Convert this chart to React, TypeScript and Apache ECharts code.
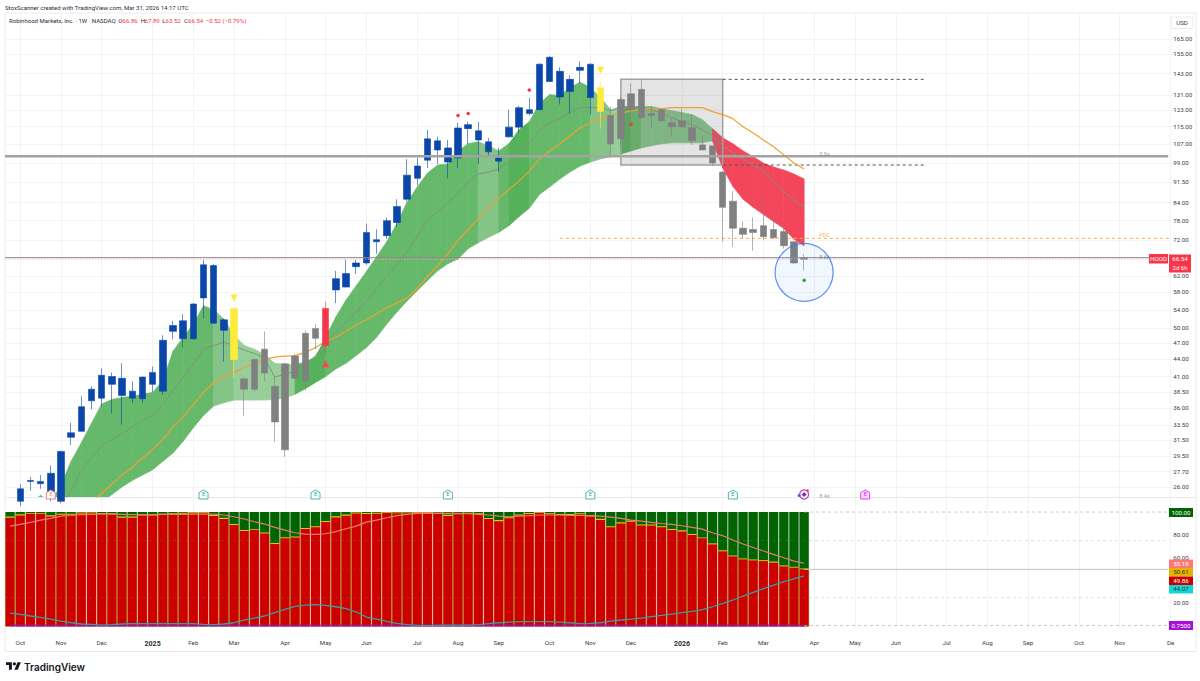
import * as echarts from "echarts";
import { useEffect, useRef } from "react";

const FONT = "Roboto, 'Liberation Sans', sans-serif";

// weekly bars, HOOD 1W
const opens = [
  23, 24.5, 26.6, 26.35, 24.8, 24.5, 31.9, 32.7, 37.1, 37.5,
  39.7, 37.9, 37.5, 37.4, 39.7, 38.6, 49.4, 47.9, 47.9, 56.7,
  51.1, 49.6, 44, 38.9, 38.9, 41.6, 34, 30.3, 40.7, 40.3,
  48, 46.6, 58.6, 59.3, 64.5, 65.5, 71.5, 73.3, 77.4, 85.2,
  92.9, 100.1, 104.4, 99.3, 101, 114, 108.8, 103.6, 99.7, 110.2,
  114.7, 121.3, 123.3, 138.5, 129.9, 132.9, 145, 129.6, 122.3, 107,
  109.3, 123.3, 119.3, 120.3, 117.8, 114.9, 114.9, 108.4, 104.4, 98.9,
  82.4, 75.6, 73.7, 74.3, 73, 72.7, 70.3, 65.5, 66.86,
];
const closes = [
  24, 25.8, 26.7, 26.6, 27.5, 30.1, 32.5, 36.2, 38.9, 41.2,
  41, 40.7, 38.6, 40.9, 41.7, 47.6, 50.6, 51.6, 55.3, 65,
  64.8, 51.8, 54.3, 40.6, 44, 45.9, 39.4, 43.2, 44.6, 49,
  50, 54.3, 61.4, 62.7, 65.5, 74.3, 72.1, 78, 82.7, 94.1,
  97.7, 109.3, 108.4, 105.3, 114.3, 115.9, 113, 108, 101, 114.7,
  124.3, 123.3, 148.7, 153, 144.4, 139.7, 146.8, 148.7, 135, 120.3,
  128.5, 131.7, 134, 121.3, 123.3, 116.8, 117.8, 114.4, 106.6, 106.2,
  95.3, 84.5, 75.6, 75.2, 76.4, 75.2, 74.6, 71.5, 66.54,
];
const lows = [
  22.5, 24, 25.6, 25.8, 24.5, 24.3, 30.9, 32.6, 35.8, 36.2,
  35.2, 33.6, 36.7, 36.7, 38.4, 38, 47.8, 46.2, 47.7, 52.1,
  51, 43.6, 40.7, 34.8, 38.5, 40.2, 31.3, 29.4, 40.5, 38.7,
  45.9, 45.1, 55.5, 59.2, 62.6, 65, 68, 72.3, 76, 84.5,
  90.3, 96.9, 98.5, 92.9, 96.9, 107, 98.5, 102, 95.3, 109.8,
  112.1, 120.3, 123.2, 138.4, 125.9, 121.3, 137.4, 120.8, 114, 102,
  106, 116.3, 118.8, 114.3, 117.3, 110.2, 114, 106.6, 104.3, 97.7,
  71.5, 70, 72.4, 68.9, 72, 72.4, 69.5, 65.3, 63.52,
];
const highs = [
  24.2, 26.3, 27.1, 27.3, 28.4, 30.2, 33.9, 37.8, 39.4, 42.4,
  41.7, 43.3, 40.2, 41, 42.7, 48.6, 51.6, 53, 55.5, 66.4,
  65.2, 52, 54.5, 40.9, 44.2, 49.4, 40.9, 43.4, 45, 49.6,
  50.9, 55.8, 63.4, 66.4, 66.4, 77.1, 75.2, 79, 85.2, 100.5,
  100.9, 113.5, 110.2, 108.8, 116.8, 117.3, 117.3, 109.8, 105.3, 123.3,
  125.3, 129.6, 149.3, 153.7, 146.8, 142, 150.5, 149.3, 138.5, 124.8,
  129.9, 137.4, 139.7, 124.8, 123.8, 119.3, 123.8, 120.8, 110.7, 106.2,
  95.7, 88, 77.7, 79, 84.1, 80.3, 77, 71.6, 67.89,
];
// b blue, g gray, y yellow, r red
const barKinds =
  "bbbbbbbbbbbbbbbbbbbbbb" + "y" + "gggggggg" + "r" + "bbbbbbbbbbbbbbbbbbbbbbbbbb" + "y" + "gggggggggggggggggggg";

const bandUpper = [
  24, 24, 24.4, 25.1, 24.4, 26.2, 28.9, 31.2, 33.8, 36.6,
  37.3, 37.6, 37.8, 38.1, 38.4, 40.3, 45.5, 48.2, 50.9, 54.9,
  54, 52, 48.6, 46.6, 45.9, 44.9, 43.3, 43.1, 43.1, 43.5,
  44.4, 48.2, 52.4, 56.2, 59.6, 63.2, 67.2, 71.5, 77.1, 84.2,
  89.6, 94.9, 98.1, 98.5, 104, 107.1, 108, 106.2, 104, 107.1,
  113.5, 117.3, 126.4, 131.2, 130.7, 135.1, 138, 135.1, 129.6, 123.3,
  124.9, 124.9, 124.9, 124.9, 123.8, 122.8, 121.8, 120.8, 118.3, 114,
  109.8, 107.1, 104, 101.5, 98.9, 97.3, 96.1, 94.5, 92.6,
];
const bandLower = [
  24, 24, 24, 24, 24, 24, 24, 24, 24, 24.4,
  25.2, 26, 26.7, 27.3, 27.9, 28.9, 29.9, 31.4, 33.2, 34.9,
  36.3, 36.8, 37.2, 37.2, 37.2, 37.2, 37.3, 37.5, 38.1, 39,
  40, 41, 42.3, 43.3, 44.7, 46.2, 48.2, 50.9, 53.5, 56,
  58.4, 60.9, 63.4, 65.3, 66.6, 69.5, 71.2, 72.8, 74.3, 76.4,
  79.3, 82.1, 86.9, 89.6, 92.6, 95.3, 97.7, 99.3, 100.6, 101.5,
  102.7, 104, 105.3, 106.2, 107.1, 107.5, 107.5, 107.5, 107.5, 108.4,
  96.9, 89.9, 85.2, 82.4, 80, 77.7, 75.5, 72.2, 70.3,
];
const bandMiddle = [
  null, null, null, null, null, 24, 25.6, 27.8, 29.3, 30.8,
  31.6, 32.4, 33.3, 34.2, 35, 36.5, 38.7, 40.9, 43.1, 45.9,
  46.6, 47.2, 46.6, 45.7, 45.1, 44.2, 40.9, 41.4, 41.9, 43.1,
  44.7, 47.2, 49.2, 51.3, 53.5, 55.8, 58.9, 61.9, 65, 68.6,
  73.1, 78.4, 81, 83.8, 87.6, 91.4, 94.5, 95.3, 96.5, 99.3,
  103.6, 107.5, 113, 116.8, 118.8, 121.8, 124.3, 124.3, 124.3, 122.8,
  124.3, 124.3, 124.3, 123.3, 121.3, 119.3, 117.3, 115.9, 113.5, 110.7,
  106.2, 103.1, 100.6, 98.1, 95.7, 91.8, 88, 84.8, 82.4,
];
const slowAverage = [
  null, null, null, null, null, null, null, null, 24.4, 25.3,
  26.3, 27.3, 28.2, 29.3, 30.3, 31.6, 33.3, 34.7, 36.5, 38.4,
  40, 40.9, 41.7, 42.6, 43.3, 44, 44.4, 44.6, 44.7, 45.3,
  46.2, 47.4, 48.2, 49.4, 50.7, 51.8, 53.1, 54.4, 55.5, 56.7,
  58.9, 62, 64.8, 68, 71.8, 75.2, 78.7, 82.4, 85.5, 88.7,
  91.8, 95.7, 100.6, 104, 107.1, 110.7, 114.4, 116.8, 118.8, 120.3,
  121.3, 122.8, 123.3, 123.8, 123.8, 124.3, 124.3, 124.3, 124.3, 122.3,
  120.8, 118.8, 114.9, 112, 108.8, 105.8, 102.3, 98.9, 96.5,
];
// shade of the band between bar i and bar i + 1
const bandShades =
  "mmmmmmmmmmmmmmmmmmmm" + "ll" + "pppppp" + "ddd" + "mmmmmmmmmmmmmmm" + "ll" + "m" + "dd" + "mmmmmm" + "l" + "l" + "p" + "d" + "m" + "lllllll" + "rrrrrrrrr";

const priceTicks = [165, 155, 143, 131, 123, 115, 107, 99, 91.5, 84, 78, 72, 62, 58, 54, 50, 47, 44, 41, 38.5, 36, 33.5, 31.5, 29.5, 27.7, 26];
const monthTicks: [number, string][] = [
  [1, "Oct"], [5, "Nov"], [9, "Dec"], [14, "2025"], [18, "Feb"], [22, "Mar"], [27, "Apr"], [31, "May"], [35, "Jun"],
  [40, "Jul"], [44, "Aug"], [48, "Sep"], [53, "Oct"], [57, "Nov"], [61, "Dec"], [66, "2026"], [70, "Feb"], [74, "Mar"],
  [79, "Apr"], [83, "May"], [87, "Jun"], [92, "Jul"], [96, "Aug"], [100, "Sep"], [105, "Oct"], [109, "Nov"], [114, "De"],
];
const categories = Array.from({ length: 115 }, () => "");
monthTicks.forEach(([i, label]) => {
  categories[i] = label;
});

// lower pane
const redTops = [
  95, 97, 98.5, 98.5, 96.2, 97.7, 97.7, 98.8, 99, 98.5,
  98, 95, 95, 97, 97, 97.7, 98, 98.5, 99, 99.1,
  96.5, 93.9, 88.6, 83.4, 84.2, 81.3, 72, 77, 77.8, 85.1,
  86.6, 91.2, 95.3, 96.8, 98.8, 98.2, 98.5, 99.1, 99, 99,
  99.3, 99.3, 98.5, 96.5, 98, 98.5, 98, 93.9, 92, 94.5,
  97, 98.2, 99.1, 98.2, 97.4, 97.4, 98, 96, 93, 86.6,
  90, 91.5, 88.3, 88.3, 86.6, 84.2, 83, 79.9, 77, 71.7,
  65.6, 61.2, 58.6, 57.7, 57.1, 55.7, 52.4, 51.3, 49.86,
];
const goldTops = [
  96, 98, 99.2, 99.2, 97.3, 98.6, 98.6, 99.5, 99.7, 99.2,
  99, 96, 96.2, 98, 98, 98.6, 98.9, 99.3, 99.8, 99.8,
  97.4, 95, 89.5, 84.2, 85, 82.1, 72.9, 77.9, 78.7, 86,
  87.6, 92.2, 96.3, 97.8, 99.6, 99.1, 99.3, 99.8, 99.7, 99.7,
  100, 100, 99.3, 97.6, 98.9, 99.3, 99, 94.8, 93, 95.5,
  97.9, 99.1, 99.8, 99, 98.3, 98.3, 99, 97.1, 94.2, 87.6,
  91, 92.5, 89.2, 89.2, 87.5, 85.1, 84, 80.8, 77.8, 72.6,
  66.5, 62, 59.4, 58.5, 57.9, 56.7, 53.3, 52.1, 50.61,
];
const upperOsc = [
  87.7, 89.2, 91, 93, 94.5, 96.5, 97, 97.7, 98, 98.2,
  98.2, 98, 97.7, 97.7, 97.7, 98, 98, 98, 98.2, 98.2,
  98.2, 97.4, 95.9, 93.9, 91.5, 89.5, 86.6, 84.2, 81.9, 80.7,
  80.5, 81, 82.8, 85.4, 87.7, 91.2, 93, 95, 96.8, 98,
  98.8, 98.8, 98.8, 98.8, 98.8, 98.5, 98, 97.4, 96.5, 95.9,
  96.5, 96.8, 97.4, 97.4, 97.4, 97, 97, 97, 96.5, 95.6,
  94.5, 93, 92.1, 91, 90, 89.2, 88, 86.6, 85.1, 81.9,
  79.3, 75.5, 72, 69, 65.9, 62.9, 60, 57.1, 55.18,
];
const lowerOsc = [
  11.6, 10.4, 9, 7.8, 6.3, 4.6, 3.1, 2, 1.7, 1.1,
  1.4, 2, 2.3, 2.3, 2.3, 2.3, 2.3, 2.3, 2.3, 1.7,
  1.4, 2, 3.1, 5.5, 7.2, 9, 11.9, 14.8, 17.4, 18.6,
  18.9, 18.3, 17.1, 15.4, 12.5, 8.1, 6.3, 4.3, 2.6, 1.4,
  0.8, 0.5, 0.8, 1.1, 1.1, 1.1, 1.4, 2.3, 3.1, 3.7,
  4, 4, 4, 4, 3.7, 3.1, 2.3, 2.6, 3.1, 4.6,
  5.5, 6.3, 7.2, 8.4, 9.6, 10.7, 11.9, 13, 14.5, 17.1,
  20, 23, 26.5, 29.7, 32.9, 36.1, 39, 41.6, 44.07,
];
const oscTicks = [20, 60, 80];

const blueBox = [78, 63];
const blueDot = [78, 61];
const signalDots = [[44, 120.3], [45, 121.3], [51, 133.7], [61, 116.1]];
const downArrows = [[22, 56.7], [58, 145]];
const upArrows = [[31, 43.2]];
const earnings = [19, 30, 43, 57, 71];
const lineNotes: [number, number, string][] = [
  [80, 102.7, "3.9s"],
  [80, 67.2, "8.6h"],
  [80, 25, "8.4s"],
];

const shadeColors: Record<string, string> = {
  m: "#66b96a",
  l: "#84c487",
  p: "#98ce9a",
  d: "#55b15a",
  r: "#f4465a",
};
const barStyles: Record<string, { body: string; wick: string }> = {
  b: { body: "#0a47a9", wick: "#0a47a9" },
  g: { body: "#808080", wick: "#808080" },
  y: { body: "#ffeb3b", wick: "#ffeb3b" },
  r: { body: "#f7364a", wick: "#f7364a" },
};

echarts.graphic.registerShape(
  "tvLogo",
  echarts.graphic.extendPath("M14 22H7V11H0V4h14v18zM28 22h-8l7.5-18h8L28 22zM20 4a4 4 0 1 0 0 8a4 4 0 1 0 0-8z", {})
);

const GRID_LEFT = 5;
const GRID_WIDTH = 1170.7;
const SMALL = 6.2;

// horizontal level in a pane; from/to null means the whole pane
const level = (pane: number, value: number, from: number | null, to: number | null, style: any, z = 3) => ({
  type: "custom",
  xAxisIndex: pane,
  yAxisIndex: pane,
  data: [[from ?? 0, value]],
  silent: true,
  z,
  clip: false,
  renderItem: (params: any, api: any) => {
    const cs = params.coordSys;
    const y = api.coord([0, value])[1];
    const x1 = from === null ? cs.x : api.coord([from, value])[0];
    const x2 = to === null ? cs.x + cs.width - 7.5 : api.coord([to, value])[0];
    return { type: "line", shape: { x1, y1: y, x2, y2: y }, style: { fill: null, ...style } };
  },
});

const tag = (x: number, y: number, w: number, h: number, fill: string, text: string, color = "#fff") => [
  { type: "rect", z: 50, shape: { x, y, width: w, height: h }, style: { fill } },
  {
    type: "text",
    z: 51,
    x: x + w / 2,
    y: y + h / 2,
    style: { text, fill: color, font: `${SMALL}px ${FONT}`, textAlign: "center", textVerticalAlign: "middle" },
  },
];

const headerText = (x: number, y: number, text: string, fill = "#2a2e39") => ({
  type: "text",
  z: 50,
  x,
  y,
  style: { text, fill, font: `6.05px ${FONT}`, textVerticalAlign: "middle" },
});

const App = () => {
  const chartRef = useRef<HTMLDivElement>(null);

  useEffect(() => {
    if (!chartRef.current) return;
    const myChart = echarts.init(chartRef.current, null, { renderer: "svg" });

    const tickInterval = (i: number) => categories[i] !== "";
    const xAxisBase = {
      type: "category",
      data: categories,
      boundaryGap: true,
      axisLine: { show: false },
      axisTick: { show: false, alignWithLabel: true },
      splitLine: { show: true, interval: tickInterval, alignWithLabel: true, lineStyle: { color: "#f2f3f5", width: 1 } },
    };

    const option = {
      animation: false,
      backgroundColor: "#ffffff",
      textStyle: { fontFamily: FONT },
      grid: [
        { left: GRID_LEFT, top: 13, width: GRID_WIDTH, height: 484 },
        { left: GRID_LEFT, top: 498, width: GRID_WIDTH, height: 130 },
      ],
      xAxis: [
        { ...xAxisBase, gridIndex: 0, axisLabel: { show: false } },
        {
          ...xAxisBase,
          gridIndex: 1,
          axisLabel: {
            show: true,
            interval: tickInterval,
            hideOverlap: false,
            margin: 12,
            fontSize: SMALL,
            color: "#3a3e49",
            fontFamily: FONT,
            formatter: (v: string) => (v.startsWith("20") ? `{y|${v}}` : v),
            rich: { y: { fontSize: 7, fontWeight: "bold", color: "#2a2e39", fontFamily: FONT } },
          },
        },
      ],
      yAxis: [
        {
          type: "log",
          gridIndex: 0,
          position: "right",
          min: 24.94,
          max: 183.7,
          axisLine: { show: false },
          axisTick: { show: false, customValues: priceTicks },
          splitLine: { show: true, customValues: priceTicks, lineStyle: { color: "#f2f3f5", width: 1 } },
          axisLabel: {
            show: true,
            customValues: priceTicks,
            align: "left",
            margin: -2.5,
            fontSize: SMALL,
            color: "#3a3e49",
            fontFamily: FONT,
            formatter: (v: number) => v.toFixed(2),
          },
        },
        {
          type: "value",
          gridIndex: 1,
          position: "right",
          min: -1.5,
          max: 112.3,
          axisLine: { show: false },
          axisTick: { show: false },
          splitLine: { show: false },
          axisLabel: {
            show: true,
            customValues: oscTicks,
            align: "left",
            margin: -2.5,
            fontSize: SMALL,
            color: "#3a3e49",
            fontFamily: FONT,
            formatter: (v: number) => v.toFixed(2),
          },
        },
      ],
      series: [
        {
          type: "custom",
          name: "band",
          xAxisIndex: 0,
          yAxisIndex: 0,
          clip: true,
          silent: true,
          z: 2,
          data: bandShades.split("").map((_, i) => [i, bandUpper[i]]),
          encode: { x: 0, y: 1 },
          renderItem: (_: any, api: any) => {
            const i = api.value(0);
            const fill = shadeColors[bandShades[i]];
            const points = [
              api.coord([i, bandUpper[i]]),
              api.coord([i + 1, bandUpper[i + 1]]),
              api.coord([i + 1, bandLower[i + 1]]),
              api.coord([i, bandLower[i]]),
            ];
            return { type: "polygon", shape: { points }, style: { fill, stroke: fill, lineWidth: 0.7 } };
          },
        },
        {
          type: "line",
          name: "middle",
          xAxisIndex: 0,
          yAxisIndex: 0,
          data: bandMiddle,
          symbol: "none",
          z: 3,
          lineStyle: { color: "#7f9382", width: 1 },
        },
        {
          type: "line",
          name: "slow",
          xAxisIndex: 0,
          yAxisIndex: 0,
          data: slowAverage,
          symbol: "none",
          z: 3,
          lineStyle: { color: "#f0a030", width: 1.2 },
          markArea: {
            silent: true,
            z: 3,
            itemStyle: { color: "rgba(120,120,120,0.2)", borderColor: "#a0a0a0", borderWidth: 1.5 },
            data: [[{ coord: [60, 139.7] }, { coord: [70, 98.1] }]],
          },
        },
        level(0, 139.7, 70, 90, { stroke: "#555", lineWidth: 1, lineDash: [3, 3] }),
        level(0, 98.1, 70, 90, { stroke: "#555", lineWidth: 1, lineDash: [3, 3] }),
        level(0, 72.5, 54, 114, { stroke: "#f7b04a", lineWidth: 1, lineDash: [3, 3] }),
        {
          type: "candlestick",
          name: "HOOD",
          xAxisIndex: 0,
          yAxisIndex: 0,
          barWidth: 7,
          z: 4,
          data: opens.map((o, i) => {
            const s = barStyles[barKinds[i]];
            return {
              value: [o, closes[i], lows[i], highs[i]],
              itemStyle: { color: s.body, color0: s.body, borderColor: s.wick, borderColor0: s.wick, borderWidth: 0.6 },
            };
          }),
        },
        level(0, 101.7, null, null, { stroke: "#a3a3a3", lineWidth: 2.4 }, 5),
        level(0, 66.95, null, null, { stroke: "#8a8a8a", lineWidth: 1 }, 5),
        level(0, 66.54, null, null, { stroke: "#f7a8b0", lineWidth: 0.8, lineDash: [1.5, 1.5] }, 5),
        {
          type: "scatter",
          name: "target",
          xAxisIndex: 0,
          yAxisIndex: 0,
          data: [blueBox],
          symbol: "circle",
          symbolSize: 58,
          z: 5,
          itemStyle: { color: "rgba(33,130,243,0.08)", borderColor: "#3d78ee", borderWidth: 1.2 },
        },
        {
          type: "scatter",
          name: "green dot",
          xAxisIndex: 0,
          yAxisIndex: 0,
          data: [blueDot],
          symbolSize: 3.5,
          z: 6,
          itemStyle: { color: "#2e9e3e", opacity: 1 },
        },
        {
          type: "scatter",
          name: "signals",
          xAxisIndex: 0,
          yAxisIndex: 0,
          data: signalDots,
          symbolSize: 3.5,
          z: 6,
          itemStyle: { color: "#f23645", opacity: 1 },
        },
        {
          type: "scatter",
          name: "down",
          xAxisIndex: 0,
          yAxisIndex: 0,
          data: downArrows,
          symbol: "triangle",
          symbolRotate: 180,
          symbolSize: [7.5, 7],
          z: 6,
          itemStyle: { color: "#ffeb3b", opacity: 1 },
        },
        {
          type: "scatter",
          name: "up",
          xAxisIndex: 0,
          yAxisIndex: 0,
          data: upArrows,
          symbol: "triangle",
          symbolSize: [7.5, 7],
          z: 6,
          itemStyle: { color: "#f7465a", opacity: 1 },
        },
        {
          type: "scatter",
          name: "earnings",
          xAxisIndex: 0,
          yAxisIndex: 0,
          clip: false,
          symbol: "path://M5 0L10 3V10H0V3Z",
          symbolSize: 9,
          z: 7,
          data: [
            { value: [4, 25.2], itemStyle: { color: "#fff", borderColor: "#f77c80", borderWidth: 1, opacity: 1 }, label: { color: "#f77c80" } },
            ...earnings.map((i) => ({ value: [i, 25.2], itemStyle: { color: "#fff", borderColor: "#4db6ac", borderWidth: 1, opacity: 1 } })),
            { value: [84, 25.2], itemStyle: { color: "#f9dcfc", borderColor: "#e040fb", borderWidth: 1, opacity: 1 }, label: { color: "#c030e0" } },
          ],
          label: { show: true, position: "inside", formatter: "E", fontSize: 5.5, color: "#26a69a", fontFamily: FONT },
        },
        {
          type: "scatter",
          name: "dividend",
          xAxisIndex: 0,
          yAxisIndex: 0,
          clip: false,
          z: 7,
          data: [
            { value: [78, 25.2], symbol: "circle", symbolSize: 9, itemStyle: { color: "#fff", borderColor: "#ab47bc", borderWidth: 1.2, opacity: 1 } },
            { value: [78, 25.2], symbol: "diamond", symbolSize: 5, itemStyle: { color: "#8e24aa", opacity: 1 } },
            { value: [78, 25.2], symbol: "circle", symbolSize: 3, symbolOffset: [-5, 1], itemStyle: { color: "#3d5afe", opacity: 1 } },
            { value: [78, 25.2], symbol: "circle", symbolSize: 2.5, symbolOffset: [3.5, -4], itemStyle: { color: "#f23645", opacity: 1 } },
          ],
        },
        {
          type: "scatter",
          name: "notes",
          xAxisIndex: 0,
          yAxisIndex: 0,
          clip: false,
          symbolSize: 0,
          z: 7,
          data: lineNotes.map(([i, v, t]) => ({ value: [i, v], name: t })),
          label: { show: true, position: "inside", formatter: "{b}", fontSize: 5.5, color: "#787b86", fontFamily: FONT },
        },
        {
          type: "scatter",
          name: "pdc",
          xAxisIndex: 0,
          yAxisIndex: 0,
          clip: false,
          symbolSize: 0,
          z: 7,
          data: [{ value: [80, 73.4], name: "PDC" }],
          label: { show: true, position: "inside", formatter: "{b}", fontSize: 5.5, color: "#f7a030", fontFamily: FONT },
        },

        // lower pane: tinted gaps between the columns, then three bars on top of each other
        {
          type: "custom",
          name: "gaps",
          xAxisIndex: 1,
          yAxisIndex: 1,
          silent: true,
          z: 1,
          data: redTops.map((v, i) => [i, v]),
          encode: { x: 0, y: 1 },
          renderItem: (_: any, api: any) => {
            const i = api.value(0);
            const [cx, yTop] = api.coord([i, 100]);
            const yMid = api.coord([i, redTops[i]])[1];
            const yBase = api.coord([i, 0])[1];
            const w = api.size([1, 0])[0];
            return {
              type: "group",
              children: [
                { type: "rect", shape: { x: cx - w / 2, y: yTop, width: w, height: yMid - yTop }, style: { fill: "#9fbd9f" } },
                { type: "rect", shape: { x: cx - w / 2, y: yMid, width: w, height: yBase - yMid }, style: { fill: "#f29a9a" } },
              ],
            };
          },
        },
        {
          type: "bar",
          name: "green",
          xAxisIndex: 1,
          yAxisIndex: 1,
          data: redTops.map(() => 100),
          barWidth: 9,
          barGap: "-100%",
          z: 2,
          itemStyle: { color: "#006400" },
        },
        {
          type: "bar",
          name: "gold",
          xAxisIndex: 1,
          yAxisIndex: 1,
          data: goldTops,
          barWidth: 9,
          barGap: "-100%",
          z: 2,
          itemStyle: { color: "#e6c800" },
        },
        {
          type: "bar",
          name: "red",
          xAxisIndex: 1,
          yAxisIndex: 1,
          data: redTops,
          barWidth: 9,
          barGap: "-100%",
          z: 2,
          itemStyle: { color: "#cc0000" },
        },
        level(1, 75, null, null, { stroke: "rgba(130,130,130,0.35)", lineWidth: 0.8, lineDash: [3, 3] }),
        level(1, 25, null, null, { stroke: "rgba(130,130,130,0.35)", lineWidth: 0.8, lineDash: [3, 3] }),
        level(1, 50, null, 78, { stroke: "rgba(130,130,130,0.3)", lineWidth: 0.8, lineDash: [3, 3] }),
        level(1, 100, 78, null, { stroke: "#b8b8b8", lineWidth: 0.8, lineDash: [3, 3] }),
        level(1, 0.75, 78, null, { stroke: "#b8b8b8", lineWidth: 0.8, lineDash: [3, 3] }),
        level(1, 49.86, 78, null, { stroke: "#c4c4c4", lineWidth: 1 }),
        level(1, 0.75, 0, 78, { stroke: "#a0149a", lineWidth: 2, opacity: 0.85 }, 4),
        {
          type: "line",
          name: "upper osc",
          xAxisIndex: 1,
          yAxisIndex: 1,
          data: upperOsc,
          symbol: "none",
          z: 5,
          lineStyle: { color: "#ea7a70", width: 1.2 },
        },
        {
          type: "line",
          name: "lower osc",
          xAxisIndex: 1,
          yAxisIndex: 1,
          data: lowerOsc,
          symbol: "none",
          z: 5,
          lineStyle: { color: "#3d9aa8", width: 1.3 },
        },
      ],
      graphic: [
        { type: "rect", z: 0, shape: { x: 5, y: 13, width: 1191, height: 638.5 }, style: { fill: "none", stroke: "#e8eaee", lineWidth: 1 } },
        { type: "line", z: 0, shape: { x1: 5, y1: 497.5, x2: 1196, y2: 497.5 }, style: { stroke: "#e8eaee", lineWidth: 1 } },
        headerText(5, 7.5, "StoxScanner created with TradingView.com, Mar 31, 2026 14:17 UTC"),
        headerText(9, 20.5, "Robinhood Markets, Inc. · 1W · NASDAQ"),
        headerText(118.3, 20.5, "O"),
        headerText(122.5, 20.5, "66.86", "#f23645"),
        headerText(140.7, 20.5, "H"),
        headerText(144.5, 20.5, "67.89", "#f23645"),
        headerText(162.3, 20.5, "L"),
        headerText(165.5, 20.5, "63.52", "#f23645"),
        headerText(184, 20.5, "C"),
        headerText(188, 20.5, "66.54", "#f23645"),
        headerText(205.7, 20.5, "−0.52 (−0.79%)", "#f23645"),
        { type: "rect", z: 50, shape: { x: 1171, y: 17, width: 22, height: 11.5, r: 1.5 }, style: { fill: "#fff", stroke: "#e8eaee", lineWidth: 1 } },
        { type: "text", z: 51, x: 1182, y: 22.8, style: { text: "USD", fill: "#3a3e49", font: `${SMALL}px ${FONT}`, textAlign: "center", textVerticalAlign: "middle" } },
        ...tag(1149, 254, 19, 9.5, "#f7364a", "HOOD"),
        ...tag(1169, 254.5, 22, 18, "#f7364a", ""),
        { type: "text", z: 51, x: 1180, y: 259, style: { text: "66.54", fill: "#fff", font: `${SMALL}px ${FONT}`, textAlign: "center", textVerticalAlign: "middle" } },
        { type: "text", z: 51, x: 1180, y: 267.5, style: { text: "2d 6h", fill: "#fff", font: `6px ${FONT}`, textAlign: "center", textVerticalAlign: "middle" } },
        ...tag(1169, 508, 24, 9, "#006400", "100.00"),
        ...tag(1169, 559.5, 24, 8.5, "#ff7676", "55.18"),
        ...tag(1169, 568, 24, 8.5, "#e2b400", "50.61", "#333"),
        ...tag(1169, 576.5, 24, 8.5, "#cc0000", "49.86"),
        ...tag(1169, 585, 24, 8.5, "#12d6d6", "44.07", "#333"),
        ...tag(1169, 621, 24, 9, "#a511d6", "0.7500"),
        { type: "tvLogo", z: 50, x: 6, y: 660.5, scaleX: 0.42, scaleY: 0.42, style: { fill: "#131722" } },
        { type: "text", z: 50, x: 24, y: 666.5, style: { text: "TradingView", fill: "#131722", font: `600 10px Inter, ${FONT}`, textVerticalAlign: "middle" } },
      ],
    };

    myChart.setOption(option as any);

    return () => {
      myChart.dispose();
    };
  }, []);

  return <div ref={chartRef} style={{ position: "fixed", left: 0, top: 0, width: 1200, height: 681 }} />;
};

export default App;
